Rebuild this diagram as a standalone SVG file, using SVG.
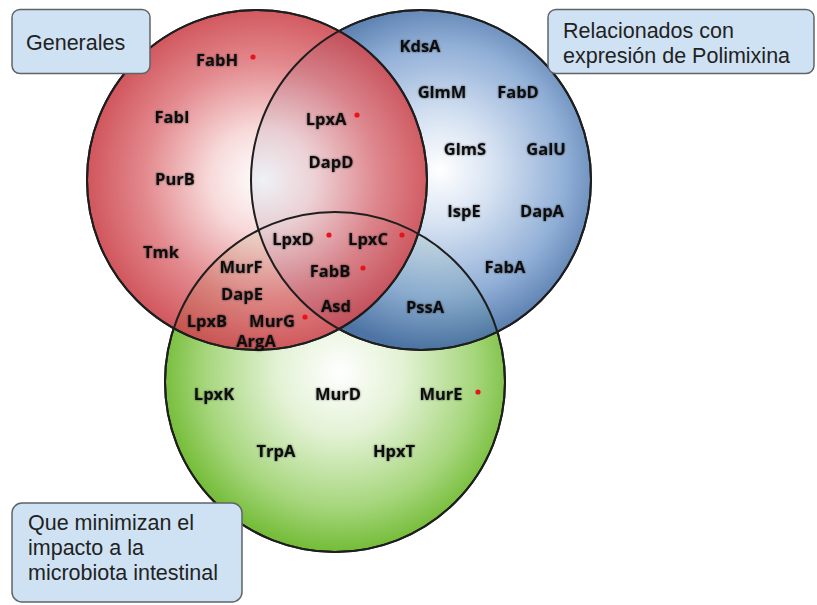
<svg xmlns="http://www.w3.org/2000/svg" width="817" height="605" viewBox="0 0 817 605">
<defs>
<radialGradient id="gRed" gradientUnits="userSpaceOnUse" cx="262" cy="180" r="172">
<stop offset="0" stop-color="#ffffff"/>
<stop offset="0.3" stop-color="#f7d6d6"/>
<stop offset="0.68" stop-color="#e07d82"/>
<stop offset="1" stop-color="#cc464d"/>
</radialGradient>
<radialGradient id="gBlue" gradientUnits="userSpaceOnUse" cx="440" cy="170" r="180">
<stop offset="0" stop-color="#ffffff"/>
<stop offset="0.3" stop-color="#d3e0f1"/>
<stop offset="0.7" stop-color="#87a8d3"/>
<stop offset="1" stop-color="#40699f"/>
</radialGradient>
<radialGradient id="gGreen" gradientUnits="userSpaceOnUse" cx="340" cy="372" r="178">
<stop offset="0" stop-color="#ffffff"/>
<stop offset="0.35" stop-color="#e3f2d5"/>
<stop offset="0.75" stop-color="#a8d77f"/>
<stop offset="1" stop-color="#76bd3a"/>
</radialGradient>
<filter id="glow" x="-20%" y="-40%" width="140%" height="180%">
<feGaussianBlur in="SourceAlpha" stdDeviation="1.1" result="b"/>
<feComponentTransfer in="b" result="s"><feFuncA type="linear" slope="0.6"/></feComponentTransfer>
<feMerge><feMergeNode in="s"/><feMergeNode in="SourceGraphic"/></feMerge>
</filter>
</defs>
<style>
.circ{stroke:#1e1e1e;stroke-width:2}
.gene{font-family:"Open Sans","Liberation Sans",sans-serif;font-weight:bold;font-size:16.5px;fill:#111;text-anchor:middle;filter:url(#glow)}
.dot{fill:#e8141c}
.box{fill:#cfe2f3;stroke:#5f6368;stroke-width:1.5}
.lbl{font-family:"Liberation Sans",Arial,sans-serif;font-size:21.5px;fill:#222}
</style>
<rect width="817" height="605" fill="#ffffff"/>
<g id="circles">
<g id="circle-green"><circle class="circ" cx="335" cy="382" r="170" fill="url(#gGreen)"/></g>
<g id="circle-blue"><circle class="circ" cx="421" cy="180" r="170" fill="url(#gBlue)" fill-opacity="0.92"/></g>
<g id="circle-red"><circle class="circ" cx="257" cy="180" r="170" fill="url(#gRed)" fill-opacity="0.9"/></g>
</g>
<g id="outlines" fill="none">
<circle class="circ" cx="335" cy="382" r="170"/>
<circle class="circ" cx="421" cy="180" r="170"/>
<circle class="circ" cx="257" cy="180" r="170"/>
</g>
<g id="genes">
<g id="FabH"><text class="gene" x="217" y="66">FabH</text><circle class="dot" cx="253" cy="57" r="2.6"/></g>
<g id="FabI"><text class="gene" x="172" y="123">FabI</text></g>
<g id="PurB"><text class="gene" x="175" y="185">PurB</text></g>
<g id="Tmk"><text class="gene" x="161" y="258">Tmk</text></g>
<g id="LpxA"><text class="gene" x="326" y="125">LpxA</text><circle class="dot" cx="357" cy="115" r="2.6"/></g>
<g id="DapD"><text class="gene" x="331" y="168">DapD</text></g>
<g id="KdsA"><text class="gene" x="420" y="52">KdsA</text></g>
<g id="GlmM"><text class="gene" x="442" y="98">GlmM</text></g>
<g id="FabD"><text class="gene" x="518" y="98">FabD</text></g>
<g id="GlmS"><text class="gene" x="465" y="155">GlmS</text></g>
<g id="GalU"><text class="gene" x="546" y="155">GalU</text></g>
<g id="IspE"><text class="gene" x="464" y="217">IspE</text></g>
<g id="DapA"><text class="gene" x="542" y="217">DapA</text></g>
<g id="FabA"><text class="gene" x="505" y="273">FabA</text></g>
<g id="LpxD"><text class="gene" x="293" y="245">LpxD</text><circle class="dot" cx="329" cy="235" r="2.6"/></g>
<g id="LpxC"><text class="gene" x="368" y="245">LpxC</text><circle class="dot" cx="402" cy="235" r="2.6"/></g>
<g id="MurF"><text class="gene" x="241" y="273">MurF</text></g>
<g id="FabB"><text class="gene" x="330" y="277">FabB</text><circle class="dot" cx="363" cy="268" r="2.6"/></g>
<g id="DapE"><text class="gene" x="242" y="300">DapE</text></g>
<g id="Asd"><text class="gene" x="336" y="312">Asd</text></g>
<g id="PssA"><text class="gene" x="425" y="313">PssA</text></g>
<g id="LpxB"><text class="gene" x="207" y="327">LpxB</text></g>
<g id="MurG"><text class="gene" x="272" y="327">MurG</text><circle class="dot" cx="305" cy="317" r="2.6"/></g>
<g id="ArgA"><text class="gene" x="256" y="347">ArgA</text></g>
<g id="LpxK"><text class="gene" x="214" y="400">LpxK</text></g>
<g id="MurD"><text class="gene" x="338" y="400">MurD</text></g>
<g id="MurE"><text class="gene" x="441" y="400">MurE</text><circle class="dot" cx="478" cy="392" r="2.6"/></g>
<g id="TrpA"><text class="gene" x="276" y="457">TrpA</text></g>
<g id="HpxT"><text class="gene" x="394" y="457">HpxT</text></g>
</g>
<g id="label-generales">
<rect class="box" x="12" y="9.5" width="138" height="64" rx="8"/>
<text class="lbl" x="26" y="50">Generales</text>
</g>
<g id="label-polimixina">
<rect class="box" x="548" y="9.5" width="266" height="64" rx="8"/>
<text class="lbl" x="563" y="38">Relacionados con</text>
<text class="lbl" x="563" y="63">expresión de Polimixina</text>
</g>
<g id="label-microbiota">
<rect class="box" x="12" y="503" width="230" height="99" rx="10"/>
<text class="lbl" x="28" y="530">Que minimizan el</text>
<text class="lbl" x="28" y="555">impacto a la</text>
<text class="lbl" x="28" y="580">microbiota intestinal</text>
</g>
</svg>
